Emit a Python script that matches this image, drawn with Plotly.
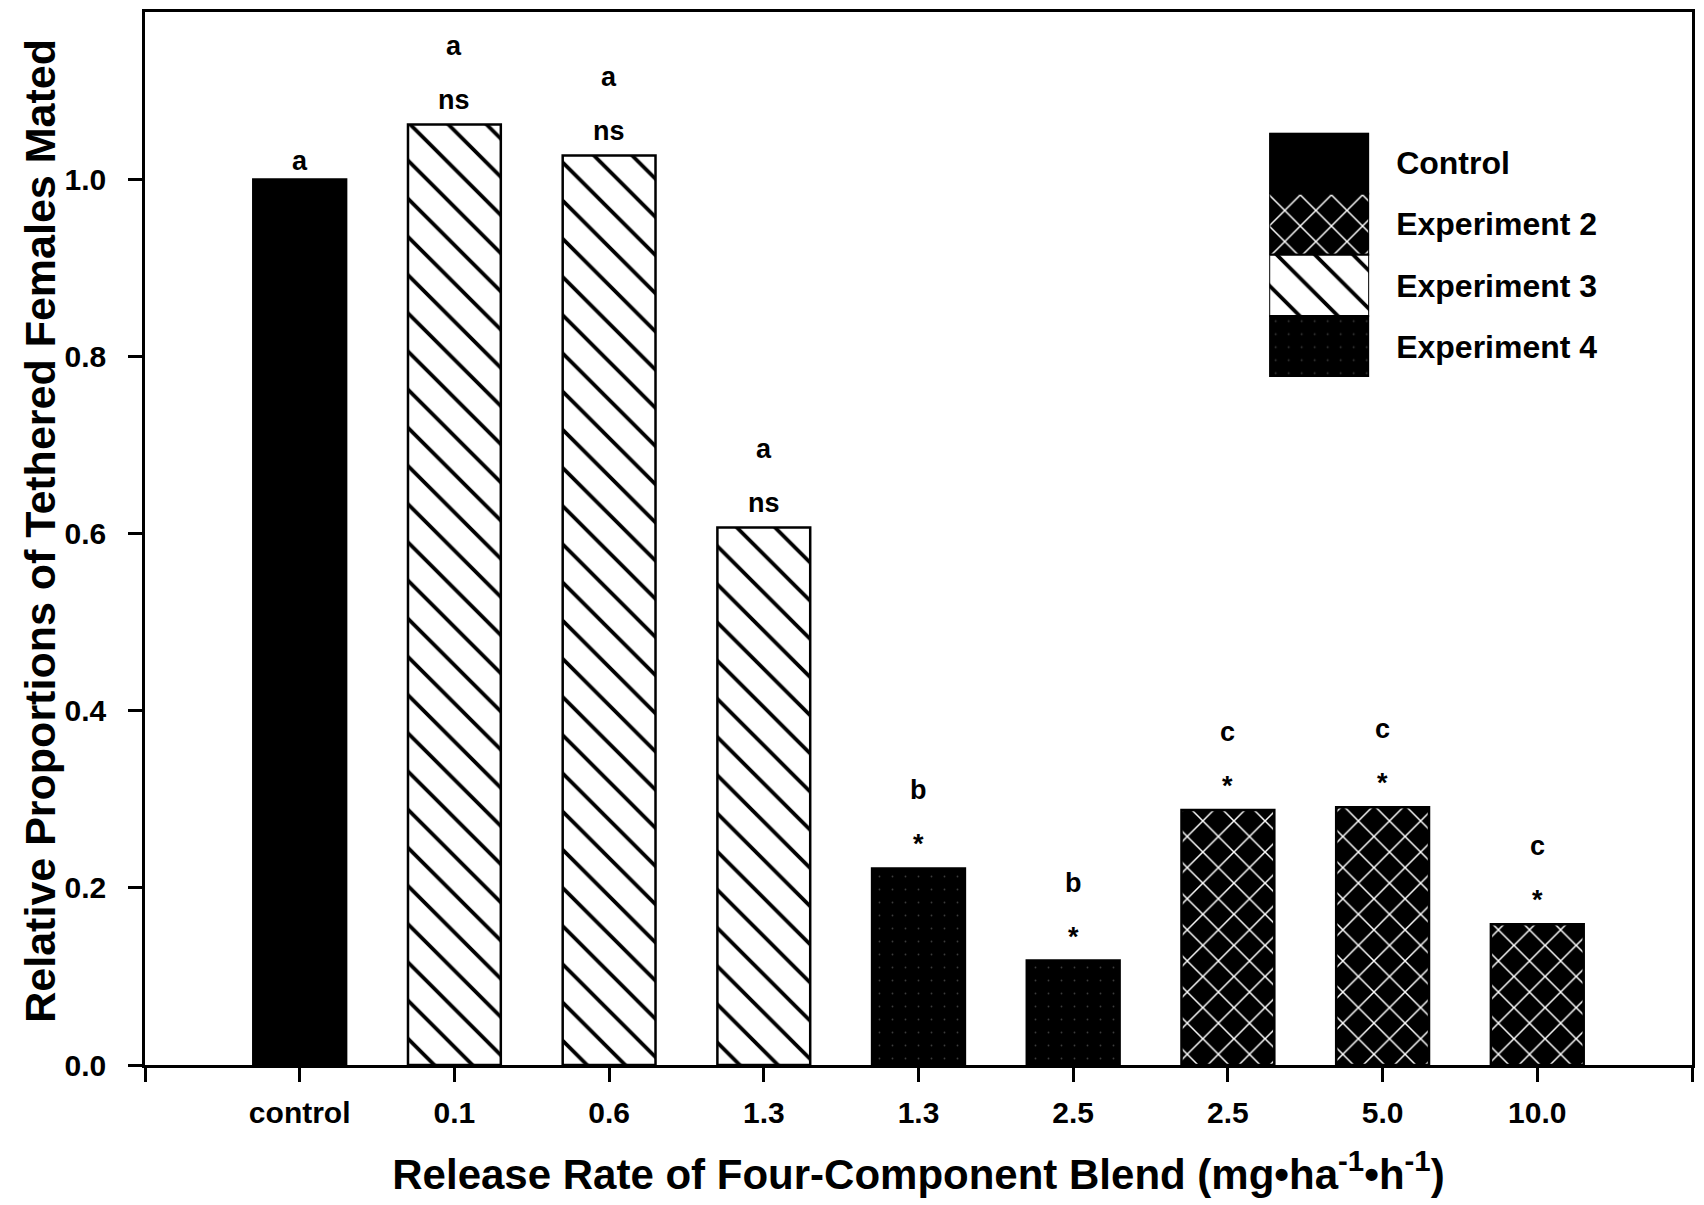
import plotly.graph_objects as go

# Release rates (x tick labels), the experiment each bar belongs to, and results
categories = ["control", "0.1", "0.6", "1.3", "1.3", "2.5", "2.5", "5.0", "10.0"]
groups = ["Control", "Experiment 3", "Experiment 3", "Experiment 3",
          "Experiment 4", "Experiment 4", "Experiment 2", "Experiment 2", "Experiment 2"]
proportions = [1.0, 1.062, 1.027, 0.607, 0.222, 0.118, 0.288, 0.291, 0.159]
letters = ["a", "a", "a", "a", "b", "b", "c", "c", "c"]
signif = ["", "ns", "ns", "ns", "*", "*", "*", "*", "*"]

legend_order = ["Control", "Experiment 2", "Experiment 3", "Experiment 4"]
y_ticks = [0.0, 0.2, 0.4, 0.6, 0.8, 1.0]

FONT = "Liberation Sans"

# fill style of each experiment
styles = {
    "Control": dict(shape="", fg="black", bg="black", size=10, solidity=0.3),
    "Experiment 2": dict(shape="x", fg="white", bg="black", size=22, solidity=0.13),
    "Experiment 3": dict(shape="\\", fg="black", bg="white", size=27, solidity=0.14),
    "Experiment 4": dict(shape=".", fg="#3c3c3c", bg="black", size=13, solidity=0.015),
}


def pattern(st):
    return dict(shape=st["shape"], fgcolor=st["fg"], bgcolor=st["bg"],
                size=st["size"], solidity=st["solidity"], fillmode="replace")


fig = go.Figure()

positions = list(range(len(categories)))
for g in legend_order:
    idx = [i for i, grp in enumerate(groups) if grp == g]
    st = styles[g]
    fig.add_trace(go.Bar(
        x=[positions[i] for i in idx],
        y=[proportions[i] for i in idx],
        width=0.6,
        name=g,
        showlegend=False,
        marker=dict(color=st["bg"], line=dict(color="black", width=2.5), pattern=pattern(st)),
        xaxis="x", yaxis="y",
    ))

# key: one swatch per experiment, labelled by the axis tick text on its right
for g in legend_order:
    st = styles[g]
    fig.add_trace(go.Bar(
        y=[g], x=[1], orientation="h", width=1,
        showlegend=False,
        marker=dict(color=st["bg"], line=dict(color="black", width=2), pattern=pattern(st)),
        xaxis="x2", yaxis="y2",
    ))

# statistical labels above each bar
annotations = []
for i, v in enumerate(proportions):
    if signif[i]:
        annotations.append(dict(x=positions[i], y=v, xref="x", yref="y", text=signif[i],
                                showarrow=False, yanchor="middle", yshift=24,
                                font=dict(family=FONT, size=27, color="black", weight=700)))
        annotations.append(dict(x=positions[i], y=v, xref="x", yref="y", text=letters[i],
                                showarrow=False, yanchor="middle", yshift=78,
                                font=dict(family=FONT, size=27, color="black", weight=700)))
    else:
        annotations.append(dict(x=positions[i], y=v, xref="x", yref="y", text=letters[i],
                                showarrow=False, yanchor="middle", yshift=18,
                                font=dict(family=FONT, size=27, color="black", weight=700)))

# y-axis title
annotations.append(dict(x=-0.0675, y=0.507, xref="paper", yref="paper",
                        text="Relative Proportions of Tethered Females Mated",
                        textangle=-90, showarrow=False, xanchor="center", yanchor="middle",
                        font=dict(family=FONT, size=43, color="black", weight=700)))

fig.update_layout(
    width=1704, height=1205,
    margin=dict(l=145, r=11, t=9, b=140),
    paper_bgcolor="white", plot_bgcolor="white",
    barmode="overlay",
    annotations=annotations,
    font=dict(family=FONT, color="black", weight=700),
    xaxis=dict(
        range=[-1, len(categories)],
        tickvals=list(range(-1, len(categories) + 1)),
        ticktext=[""] + categories + [""],
        ticks="outside", ticklen=14, tickwidth=2.5, tickcolor="black",
        showline=True, linecolor="black", linewidth=2.5, mirror=True,
        showgrid=False, zeroline=False,
        tickfont=dict(family=FONT, size=30, color="black", weight=700),
        ticklabelstandoff=5,
        title=dict(text="Release Rate of Four-Component Blend (mg•ha<sup>-1</sup>•h<sup>-1</sup>)",
                   font=dict(family=FONT, size=42, color="black", weight=700), standoff=32),
    ),
    yaxis=dict(
        range=[0, 1.189],
        tickvals=y_ticks,
        tickformat=".1f",
        ticks="outside", ticklen=14, tickwidth=2.5, tickcolor="black",
        showline=True, linecolor="black", linewidth=2.5, mirror=True,
        showgrid=False, zeroline=False,
        tickfont=dict(family=FONT, size=30, color="black", weight=700),
        ticklabelstandoff=16,
    ),
    xaxis2=dict(domain=[0.7267, 0.7913], range=[0, 1], anchor="y2",
                visible=False, fixedrange=True),
    yaxis2=dict(domain=[0.6534, 0.8854], anchor="x2", side="right",
                categoryorder="array", categoryarray=legend_order, autorange="reversed",
                showline=False, showgrid=False, zeroline=False, ticks="",
                ticklabelstandoff=26,
                tickfont=dict(family=FONT, size=32, color="black", weight=700)),
)

fig.write_html("out.html")
